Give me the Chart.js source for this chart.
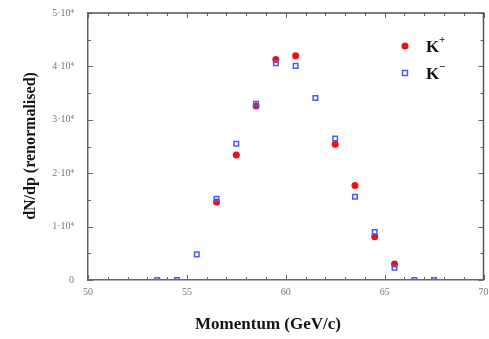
<!DOCTYPE html>
<html>
<head>
<meta charset="utf-8">
<script src="https://cdn.jsdelivr.net/npm/chart.js@4"></script>
<style>
  body { margin: 0; background: #fff; }
  #wrap { width: 489px; height: 339px; }
</style>
</head>
<body>
<div id="wrap"><canvas id="momentumChart"></canvas></div>
<script>
// K+ (red, filled circles)
const kPlusMomentum = [56.5, 57.5, 58.5, 59.5, 60.5, 62.5, 63.5, 64.5, 65.5];
const kPlusCounts = [14600, 23400, 32600, 41300, 42000, 25400, 17700, 8100, 3000];

// K- (blue, open squares)
const kMinusMomentum = [53.5, 54.5, 55.5, 56.5, 57.5, 58.5, 59.5, 60.5, 61.5, 62.5, 63.5, 64.5, 65.5, 66.5, 67.5];
const kMinusCounts = [0, 0, 4800, 15200, 25500, 33000, 40600, 40100, 34100, 26500, 15600, 9000, 2300, 0, 0];

const xTickValues = [50, 55, 60, 65, 70];
const yTickLabels = ['0', '1·10⁴', '2·10⁴', '3·10⁴', '4·10⁴', '5·10⁴'];

const serif = '"Liberation Serif", "DejaVu Serif", serif';

const toPoints = (xs, ys) => xs.map((x, i) => ({ x: x, y: ys[i] }));

// inward ticks on all four sides, top/right frame, titles and legend
const frameTicks = {
  id: 'frameTicks',
  afterDatasetsDraw(chart) {
    const { ctx, chartArea: a, scales } = chart;
    const x = scales.x, y = scales.y;
    ctx.save();
    ctx.strokeStyle = '#666';
    ctx.lineWidth = 1;
    ctx.beginPath();
    for (let v = 50; v <= 70; v += 1) {
      const px = Math.round(x.getPixelForValue(v)) + 0.5;
      const len = v % 5 === 0 ? 5 : 3;
      ctx.moveTo(px, a.bottom); ctx.lineTo(px, a.bottom - len);
      ctx.moveTo(px, a.top); ctx.lineTo(px, a.top + len);
    }
    for (let v = 0; v <= 50000; v += 5000) {
      const py = Math.round(y.getPixelForValue(v)) + 0.5;
      const len = v % 10000 === 0 ? 5 : 3;
      ctx.moveTo(a.left, py); ctx.lineTo(a.left + len, py);
      ctx.moveTo(a.right, py); ctx.lineTo(a.right - len, py);
    }
    ctx.stroke();
    ctx.beginPath();
    ctx.strokeStyle = '#555';
    ctx.lineWidth = 1.5;
    ctx.moveTo(a.left, a.top); ctx.lineTo(a.right, a.top); ctx.lineTo(a.right, a.bottom);
    ctx.stroke();

    // axis titles
    ctx.fillStyle = '#151515';
    ctx.textAlign = 'center';
    ctx.textBaseline = 'middle';
    ctx.font = 'bold 17px ' + serif;
    ctx.fillText('Momentum (GeV/c)', 268, 325);
    ctx.save();
    ctx.translate(31, 146);
    ctx.rotate(-Math.PI / 2);
    ctx.font = 'bold 16px ' + serif;
    ctx.fillText('dN/dp (renormalised)', 0, 0);
    ctx.restore();

    // legend inside the plot
    ctx.textAlign = 'left';
    ctx.fillStyle = '#f01010';
    ctx.beginPath();
    ctx.arc(405, 46, 3.5, 0, Math.PI * 2);
    ctx.fill();
    ctx.strokeStyle = '#4a5cf0';
    ctx.lineWidth = 1.5;
    ctx.strokeRect(402.5, 70.5, 5, 5);
    ctx.fillStyle = '#111';
    ctx.font = 'bold 17px ' + serif;
    ctx.fillText('K', 426, 48);
    ctx.fillText('K', 426, 75);
    ctx.font = 'bold 11px ' + serif;
    ctx.fillText('+', 439, 40);
    ctx.fillText('−', 439, 67);
    ctx.restore();
  }
};

new Chart(document.getElementById('momentumChart'), {
  type: 'scatter',
  data: {
    datasets: [
      {
        label: 'K+',
        data: toPoints(kPlusMomentum, kPlusCounts),
        pointStyle: 'circle',
        radius: 3.5,
        backgroundColor: '#f01010',
        borderColor: '#f01010',
        borderWidth: 0,
        order: 2,
      },
      {
        label: 'K-',
        data: toPoints(kMinusMomentum, kMinusCounts),
        pointStyle: 'rect',
        radius: 3.2,
        backgroundColor: 'rgba(0,0,0,0)',
        borderColor: '#4a5cf0',
        borderWidth: 1.5,
        order: 1,
      },
    ],
  },
  options: {
    responsive: true,
    maintainAspectRatio: false,
    animation: false,
    layout: { padding: { top: 13, right: 5, left: 0, bottom: 0 } },
    plugins: {
      legend: { display: false },
      tooltip: { enabled: false },
    },
    scales: {
      x: {
        type: 'linear',
        min: 50,
        max: 70,
        afterFit(scale) { scale.height = 59; },
        afterBuildTicks(scale) { scale.ticks = xTickValues.map(v => ({ value: v })); },
        grid: { display: false },
        border: { display: true, color: '#666', width: 1.5 },
        ticks: { color: '#777', font: { family: serif, size: 10 }, padding: -2 },
      },
      y: {
        type: 'linear',
        min: 0,
        max: 50000,
        afterFit(scale) { scale.width = 88; },
        grid: { display: false },
        border: { display: true, color: '#666', width: 1.5 },
        ticks: {
          stepSize: 10000,
          color: '#777',
          font: { family: serif, size: 10 },
          padding: 6,
          callback: (v) => yTickLabels[Math.round(v / 10000)],
        },
      },
    },
  },
  plugins: [frameTicks],
});
</script>
</body>
</html>
